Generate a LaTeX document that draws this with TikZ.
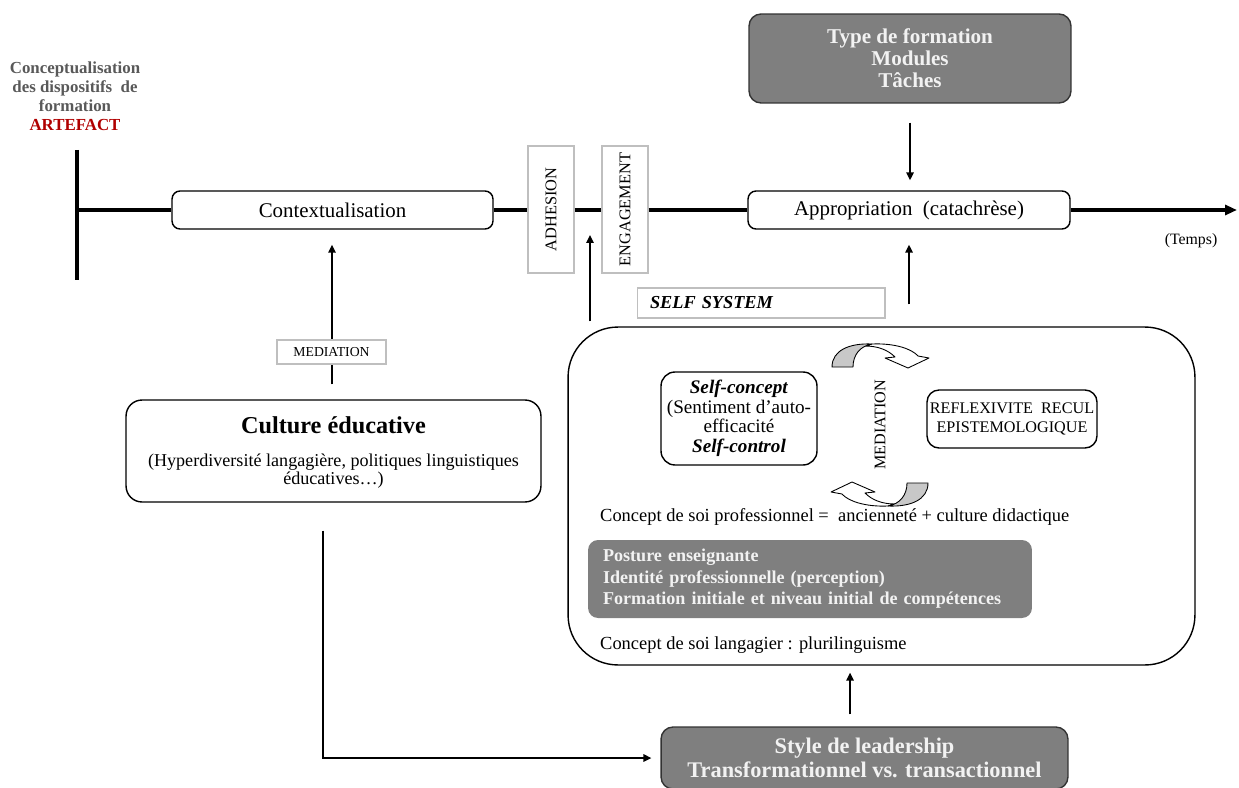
\documentclass[tikz,border=0pt]{standalone}
\usepackage{fontspec}
\setmainfont{Liberation Serif}
\usetikzlibrary{arrows.meta,calc}
\definecolor{boxgray}{HTML}{7F7F7F}
\definecolor{lightborder}{HTML}{BFBFBF}
\definecolor{titlegray}{HTML}{595959}
\definecolor{artred}{HTML}{B00000}
\definecolor{bandgray}{HTML}{C8C8C8}
\definecolor{boxtext}{HTML}{F2F2F2}
\newcommand{\fs}[2]{\fontsize{#1}{#2}\selectfont}
\begin{document}
\begin{tikzpicture}[x=0.02cm,y=-0.02cm,
  box/.style={draw=black, line width=0.8pt, rounded corners=0.16cm, fill=white, align=center, inner sep=0pt},
  lightbox/.style={draw=lightborder, line width=0.6pt, fill=white, inner sep=0pt},
  graybox/.style={draw=black!80, line width=0.8pt, fill=boxgray, text=boxtext, align=center, inner sep=0pt, rounded corners=0.24cm},
  arr/.style={line width=0.85pt, -{Triangle[length=0.16cm,width=0.15cm]}},
  thickline/.style={line width=1.8pt},
  crescent/.style={draw=black, line width=0.5pt, fill=bandgray, line join=round},
  head/.style={draw=black, line width=0.5pt, fill=white, line join=round},
  ]
\useasboundingbox (0,0) rectangle (1239,787);

% title
\node[align=center, text=titlegray, font=\bfseries\fs{9.6}{10.8}] (title) at (75,96)
  {Conceptualisation\\des dispositifs\ \ de\\formation\\\textcolor{artred}{ARTEFACT}};

% timeline nodes
\coordinate (t0) at (77,210);
\coordinate (tend) at (1237,210);
\coordinate (bartop) at (77,150);
\coordinate (barbot) at (77,280);
\node[box, minimum width=6.42cm, minimum height=0.76cm, font=\fs{11.9}{13}] (ctx) at (332.5,210) {Contextualisation};
\node[lightbox, minimum width=0.92cm, minimum height=2.54cm, font=\fs{9.3}{11}] (adh) at (551,209.5) {\rotatebox{90}{ADHESION}};
\node[lightbox, minimum width=0.92cm, minimum height=2.54cm, font=\fs{9.3}{11}] (eng) at (625,209.5) {\rotatebox{90}{ENGAGEMENT}};
\node[box, minimum width=6.44cm, minimum height=0.76cm, font=\fs{11.9}{13}] (app) at (909,210) {Appropriation\ \ (catachrèse)};
\node[font=\fs{9}{11}] (temps) at (1191,241) {(Temps)};
\coordinate (t1) at (590,210);

\draw[thickline] (bartop) -- (barbot);
\draw[thickline] (t0) -- (ctx.west);
\draw[thickline] (ctx.east) -- (ctx.east -| adh.west);
\draw[thickline] (ctx.east -| adh.east) -- (ctx.east -| eng.west);
\draw[thickline] (ctx.east -| eng.east) -- (app.west);
\draw[thickline, -{Triangle[length=0.24cm,width=0.2cm]}] (app.east) -- (tend);

% type de formation
\node[graybox, minimum width=6.44cm, minimum height=1.78cm, font=\bfseries\fs{12}{12.6}] (type) at (910,58.5)
  {Type de formation\\Modules\\Tâches};
\draw[arr, shorten <=0.38cm, shorten >=0.2cm] (type.south) -- (type.south |- app.north);

% self system
\node[lightbox, text width=4.44cm, inner xsep=0.26cm, minimum height=0.6cm, align=left, font=\bfseries\itshape\fs{10.4}{12}] (sslab) at (761,303) {SELF SYSTEM};
\node[draw=black, line width=0.8pt, rounded corners=1cm, minimum width=12.54cm, minimum height=6.76cm] (self) at (881.5,496) {};
\draw[arr, shorten <=0.44cm, shorten >=0.3cm] (self.north -| app.south) -- (app.south);
\draw[arr, shorten <=0.1cm, shorten >=0.5cm] (self.north -| t1) -- (t1);

\node[box, rounded corners=0.28cm, minimum width=3.12cm, minimum height=1.86cm, font=\fs{10.9}{11.1}] (sc) at (739,418.5)
  {\textbf{\textit{Self-concept}}\\(Sentiment d’auto-\\efficacité\\\textbf{\textit{Self-control}}};
\node[box, rounded corners=0.24cm, minimum width=3.4cm, minimum height=1.16cm, font=\fs{9.2}{11}] (refl) at (1012,419)
  {REFLEXIVITE\ \ RECUL\\EPISTEMOLOGIQUE};
\node[font=\fs{9.2}{11}] (medv) at (880,425) {\rotatebox{90}{MEDIATION}};

% curved arrows (top)
\draw[head] (872,344) .. controls (895,343) and (912,349) .. (918,356) -- (929,358) -- (908,368) -- (885,358)
  -- (895,357) .. controls (888,350) and (878,346) .. (865,346) -- cycle;
\draw[crescent] (832,367) .. controls (832,350) and (850,343) .. (872,344)
  .. controls (860,346) and (853,355) .. (853,367) -- cycle;
% curved arrows (bottom)
\draw[head] (888,506) .. controls (865,507) and (848,501) .. (842,494) -- (831,492) -- (852,482) -- (875,492)
  -- (865,493) .. controls (872,500) and (882,504) .. (895,504) -- cycle;
\draw[crescent] (928,483) .. controls (928,500) and (910,507) .. (888,506)
  .. controls (900,504) and (907,495) .. (907,483) -- cycle;

\node[anchor=west, font=\fs{10.5}{12}] (cpro) at (594,517) {Concept de soi professionnel =\ \ ancienneté + culture didactique};
\node[graybox, draw=none, rounded corners=0.2cm, text width=8.28cm, inner xsep=0.3cm, minimum height=1.56cm, align=left, font=\bfseries\fs{10.3}{12.2}] (post) at (810,579)
  {Posture enseignante\\Identité professionnelle (perception)\\Formation initiale et niveau initial de compétences};
\node[anchor=west, font=\fs{10.5}{12}] (clang) at (594,645) {Concept de soi langagier\ : plurilinguisme};

% leadership
\node[graybox, minimum width=8.14cm, minimum height=1.24cm, font=\bfseries\fs{12.7}{13.2}] (lead) at (864.5,758)
  {Style de leadership\\Transformationnel vs. transactionnel};
\coordinate (leadx) at (850,0);
\draw[arr, shorten <=0.24cm, shorten >=0.14cm] (lead.north -| leadx) -- (self.south -| leadx);

% culture
\node[box, rounded corners=0.32cm, minimum width=8.3cm, minimum height=2.04cm] (cult) at (333.5,451) {};
\node[font=\bfseries\fs{13.8}{15}] (culttitle) at (333.5,425) {Culture éducative};
\node[align=center, font=\fs{10.3}{10.4}] (cultsub) at (333.5,471) {(Hyperdiversité langagière, politiques linguistiques\\éducatives…)};
\coordinate (cx) at (332,0);
\draw[arr, shorten <=0.3cm, shorten >=0.3cm] (cult.north -| cx) -- (ctx.south -| cx);
\node[lightbox, minimum width=2.18cm, minimum height=0.48cm, font=\fs{7.8}{9}] (med) at (331.5,352) {MEDIATION};
\coordinate (lx) at (323,0);
\draw[arr, shorten >=0.18cm] ([yshift=-0.56cm]cult.south -| lx) |- (lead.west);
\end{tikzpicture}
\end{document}
